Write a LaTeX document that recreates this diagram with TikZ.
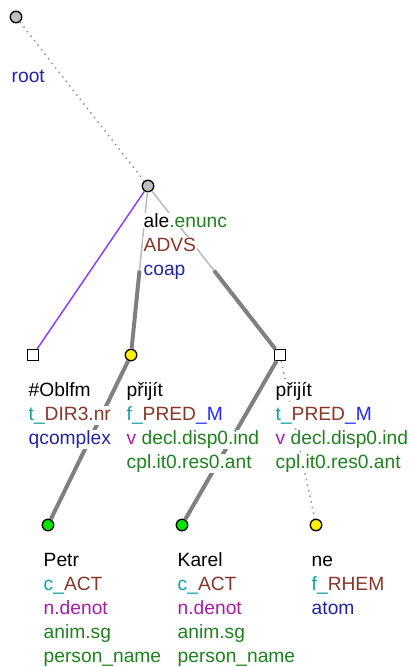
\documentclass[tikz,border=0pt]{standalone}
\usepackage{fontspec}
\setmainfont{Liberation Sans}
\usetikzlibrary{calc}

\definecolor{tteal}{RGB}{20,160,160}
\definecolor{tbrown}{RGB}{135,55,40}
\definecolor{tblue}{RGB}{35,35,165}
\definecolor{tlblue}{RGB}{40,40,250}
\definecolor{tpurple}{RGB}{165,30,165}
\definecolor{tgreen}{RGB}{30,130,30}
\definecolor{tviolet}{RGB}{140,60,250}

% one white-backed text line per entry, stacked under the node
\newcommand{\tlabel}[2]{%
  \foreach \txt [count=\i] in {#2}
    \node[lbl] (#1-\i) at ([xshift=-4pt, yshift={-31pt-18pt*(\i-1)}]#1.center) {\txt};}

\begin{document}
\begin{tikzpicture}[
    x=0.75pt, y=-0.75pt,
    every node/.style={inner sep=0pt},
    tcirc/.style={circle, draw, line width=1pt, fill=#1, minimum size=8.6pt},
    tsquare/.style={rectangle, draw, line width=1pt, fill=white, minimum size=8pt},
    lbl/.style={anchor=base west, fill=white, inner sep=0.6pt,
                font=\fontsize{14.4}{18}\selectfont},
    thinedge/.style={draw=gray!55, line width=1.1pt},
    thickedge/.style={draw=gray, line width=3pt},
    dotedge/.style={draw=gray!85, line width=1.1pt, dash pattern=on 1.1pt off 3.2pt},
    coordedge/.style={draw=tviolet, line width=1.1pt}
  ]
  \useasboundingbox (0,0) rectangle (409,667);

  % node shapes
  \node[tcirc=gray!50] (root) at (16,17) {};
  \node[tcirc=gray!50] (ale) at (148,186) {};
  \node[tsquare] (obl) at (33,355) {};
  \node[tcirc=yellow] (prijit1) at (131,355) {};
  \node[tsquare] (prijit2) at (280,355) {};
  \node[tcirc=green!90!black] (petr) at (48,525) {};
  \node[tcirc=green!90!black] (karel) at (182,525) {};
  \node[tcirc=yellow] (ne) at (316,525) {};

  % edges
  \draw[dotedge] (root) -- (ale);
  \draw[coordedge] (ale) -- (obl);
  \coordinate (mid1) at ($(ale)!0.5!(prijit1)$);
  \coordinate (mid2) at ($(ale)!0.5!(prijit2)$);
  \draw[thinedge] (ale) -- (mid1);
  \draw[thickedge] (mid1) -- (prijit1);
  \draw[thinedge] (ale) -- (mid2);
  \draw[thickedge] (mid2) -- (prijit2);
  \draw[thickedge] (prijit1) -- (petr);
  \draw[thickedge] (prijit2) -- (karel);
  \draw[dotedge] (prijit2) -- (ne);

  % labels
  \node[lbl] (root-2) at ([xshift=-4pt, yshift=-49pt]root.center) {\textcolor{tblue}{root}};
  \tlabel{ale}{ale\textcolor{tgreen}{.enunc},
    \textcolor{tbrown}{ADVS},
    \textcolor{tblue}{coap}}
  \tlabel{obl}{\#Oblfm,
    \textcolor{tteal}{t\_}\textcolor{tbrown}{DIR3.nr},
    \textcolor{tblue}{qcomplex}}
  \tlabel{prijit1}{přijít,
    \textcolor{tteal}{f\_}\textcolor{tbrown}{PRED}\textcolor{tlblue}{\_M},
    \textcolor{tpurple}{v} \textcolor{tgreen}{decl.disp0.ind},
    \textcolor{tgreen}{cpl.it0.res0.ant}}
  \tlabel{prijit2}{přijít,
    \textcolor{tteal}{t\_}\textcolor{tbrown}{PRED}\textcolor{tlblue}{\_M},
    \textcolor{tpurple}{v} \textcolor{tgreen}{decl.disp0.ind},
    \textcolor{tgreen}{cpl.it0.res0.ant}}
  \tlabel{petr}{Petr,
    \textcolor{tteal}{c\_}\textcolor{tbrown}{ACT},
    \textcolor{tpurple}{n.denot},
    \textcolor{tgreen}{anim.sg},
    \textcolor{tgreen}{person\_name}}
  \tlabel{karel}{Karel,
    \textcolor{tteal}{c\_}\textcolor{tbrown}{ACT},
    \textcolor{tpurple}{n.denot},
    \textcolor{tgreen}{anim.sg},
    \textcolor{tgreen}{person\_name}}
  \tlabel{ne}{ne,
    \textcolor{tteal}{f\_}\textcolor{tbrown}{RHEM},
    \textcolor{tblue}{atom}}
\end{tikzpicture}
\end{document}
